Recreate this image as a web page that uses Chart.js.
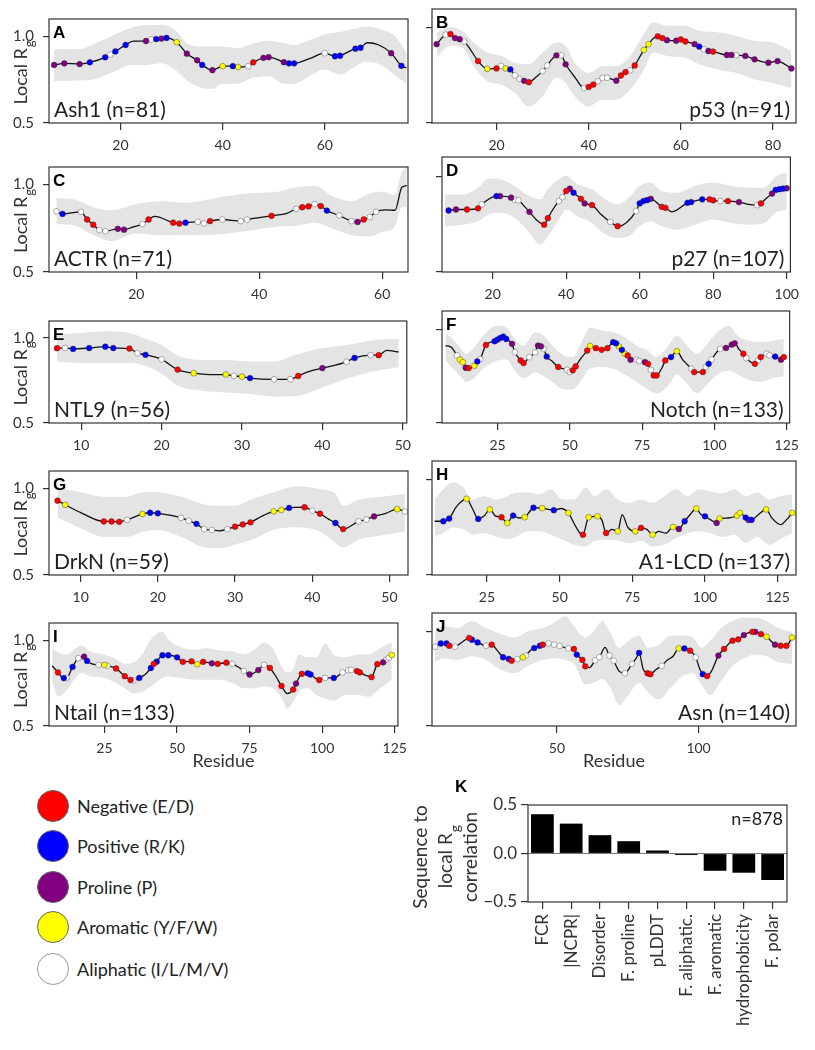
<!DOCTYPE html>
<html>
<head>
<meta charset="utf-8">
<title>Local Rg per residue</title>
<script src="https://cdn.jsdelivr.net/npm/chart.js@4.4.1/dist/chart.umd.min.js"></script>
<style>
  body { margin: 0; background: #fff; width: 815px; height: 1050px; position: relative; overflow: hidden; font-family: Lato, "DejaVu Sans", sans-serif; }
  canvas { position: absolute; }
  .legend-item { position: absolute; left: 37px; height: 32px; display: flex; align-items: center; white-space: nowrap; font-size: 18px; color: #222; }
  .legend-dot { width: 32px; height: 32px; border-radius: 50%; border: 1px solid #666; box-sizing: border-box; margin-right: 8px; }
</style>
</head>
<body>
<script>
// --- Data: residue, local Rg, residue class per marker ---
// class codes: E negative, K positive, P proline, Y aromatic, L aliphatic, '-' line only

// A: Ash1
const ash1Res = [7, 9, 12, 14, 17, 18, 19, 21, 22.5, 25, 26, 27, 28, 29, 31, 33, 35, 36, 38, 40, 42, 43, 45, 46, 48, 49, 52, 53, 54, 57, 60, 62, 63, 66, 67, 68.3, 70.6, 73, 75, 76];
const ash1Rg = [0.835, 0.844, 0.84, 0.85, 0.879, 0.895, 0.913, 0.95, 0.972, 0.973, 0.982, 0.984, 0.987, 0.991, 0.966, 0.9, 0.862, 0.835, 0.805, 0.828, 0.828, 0.823, 0.828, 0.85, 0.876, 0.88, 0.851, 0.844, 0.844, 0.871, 0.903, 0.885, 0.888, 0.929, 0.934, 0.963, 0.95, 0.903, 0.83, 0.818];
const ash1Aa = 'PPPKKLKK-PLKPKYPPKPYKYLEPPPKK-LKKKK--PK-';
const ash1BandRes = [7, 12, 15, 19, 22, 25, 28, 31, 33, 36, 38, 40, 43, 46, 49, 52, 54, 57, 60, 63, 66, 68, 71, 74, 76];
const ash1Hi = [0.925, 0.927, 0.959, 1.012, 1.048, 1.065, 1.065, 1.03, 0.959, 0.941, 0.94, 0.941, 0.932, 0.959, 0.975, 0.96, 0.95, 0.977, 1.012, 1.025, 1.045, 1.057, 1.039, 0.995, 0.906];
const ash1Lo = [0.743, 0.745, 0.754, 0.8, 0.835, 0.835, 0.844, 0.8, 0.745, 0.702, 0.697, 0.727, 0.727, 0.762, 0.77, 0.727, 0.727, 0.77, 0.808, 0.78, 0.826, 0.853, 0.835, 0.77, 0.727];
const ash1Ticks = [20, 40, 60];

// B: p53
const p53Res = [7, 9, 10, 11, 12, 13, 14.3, 16, 18, 20, 21, 22, 23, 24, 25, 26, 27, 28.8, 30, 31, 32, 33, 34, 35, 37.1, 39, 40, 41, 42, 43, 44, 46, 47, 48, 49, 50, 52, 53, 54, 55, 56, 57, 59, 60, 61, 63, 64, 65, 66, 67, 70, 71, 72, 74, 76, 79, 81, 82.5, 84];
const p53Rg = [0.915, 0.965, 0.968, 0.947, 0.941, 0.929, 0.888, 0.826, 0.785, 0.787, 0.8, 0.787, 0.782, 0.75, 0.732, 0.722, 0.715, 0.746, 0.773, 0.803, 0.835, 0.856, 0.856, 0.809, 0.738, 0.684, 0.69, 0.702, 0.72, 0.738, 0.738, 0.723, 0.75, 0.768, 0.777, 0.803, 0.885, 0.915, 0.945, 0.956, 0.947, 0.936, 0.933, 0.94, 0.929, 0.915, 0.902, 0.888, 0.879, 0.876, 0.858, 0.858, 0.856, 0.853, 0.835, 0.817, 0.826, 0.81, 0.787];
const p53Aa = 'PLEPPL-EYELYKLLPE-LL-PLP-LEELLLPEELEYY-EEPPEEPKLPEPPLPPPP-P';
const p53BandRes = [7, 10, 13, 15, 18, 21, 24, 27, 30, 33, 35, 37, 40, 43, 46, 49, 52, 54, 57, 61, 64, 68, 72, 76, 80, 84];
const p53Hi = [0.977, 1.004, 0.977, 0.924, 0.871, 0.853, 0.817, 0.809, 0.871, 0.924, 0.906, 0.817, 0.764, 0.8, 0.8, 0.853, 0.968, 1.03, 1.012, 1.012, 0.986, 0.977, 0.959, 0.933, 0.924, 0.879];
const p53Lo = [0.844, 0.906, 0.888, 0.8, 0.72, 0.702, 0.658, 0.587, 0.64, 0.738, 0.711, 0.64, 0.587, 0.622, 0.622, 0.676, 0.782, 0.871, 0.853, 0.844, 0.809, 0.782, 0.764, 0.729, 0.711, 0.684];
const p53Ticks = [20, 40, 60, 80];

// C: ACTR
const actrRes = [7, 8, 11, 12, 13, 14, 15, 17, 18, 19.5, 21, 22, 23, 26, 27, 28, 30, 31, 32, 34, 37, 38, 42, 44.5, 46, 47, 48, 49, 50, 51, 53, 55, 56, 57, 58, 59, 60.5, 62.1, 63.2, 64];
const actrRg = [0.847, 0.832, 0.844, 0.8, 0.77, 0.739, 0.733, 0.747, 0.742, 0.758, 0.774, 0.8, 0.818, 0.782, 0.777, 0.782, 0.786, 0.777, 0.791, 0.8, 0.791, 0.8, 0.821, 0.835, 0.861, 0.87, 0.875, 0.888, 0.877, 0.851, 0.823, 0.791, 0.786, 0.8, 0.814, 0.844, 0.855, 0.853, 0.984, 0.993];
const actrAa = 'LKLEELLPP-LE-EEKLLELLLE-LEELEKLLPELL----';
const actrBandRes = [7, 10, 13, 16, 20, 24, 28, 33, 38, 43, 46, 49, 52, 55, 58, 60, 62, 63.2, 64];
const actrHi = [0.923, 0.914, 0.87, 0.853, 0.888, 0.905, 0.896, 0.923, 0.949, 0.958, 0.984, 0.993, 0.932, 0.905, 0.949, 0.958, 0.94, 1.07, 1.098];
const actrLo = [0.774, 0.765, 0.712, 0.677, 0.72, 0.71, 0.712, 0.715, 0.735, 0.76, 0.765, 0.782, 0.747, 0.712, 0.704, 0.73, 0.756, 0.87, 0.87];
const actrTicks = [20, 40, 60];

// D: p27
const p27Res = [8, 10, 13, 16, 17, 21, 22, 25, 26, 27, 28.5, 30, 32, 34, 35, 36.5, 38, 39, 40, 41, 42, 44, 45, 47, 49.5, 52, 54, 56.5, 59, 60, 61, 62, 63, 66, 67, 68.8, 73, 74, 77, 79, 80, 82, 84, 87, 89.5, 92, 93, 94.5, 96, 97, 98, 99, 100];
const p27Rg = [0.821, 0.826, 0.826, 0.832, 0.853, 0.896, 0.896, 0.888, 0.877, 0.874, 0.845, 0.814, 0.77, 0.747, 0.781, 0.83, 0.87, 0.891, 0.923, 0.935, 0.914, 0.882, 0.858, 0.849, 0.8, 0.761, 0.739, 0.76, 0.818, 0.858, 0.87, 0.875, 0.882, 0.84, 0.835, 0.814, 0.861, 0.865, 0.879, 0.879, 0.874, 0.87, 0.87, 0.865, 0.853, 0.849, 0.858, 0.885, 0.909, 0.928, 0.932, 0.935, 0.937];
const p27Aa = 'KPEELKPPLL-P-EE-LLEPKEPE-LE-LKKKPEE-KKKEELEP-LE-PKKKP';
const p27BandRes = [7, 12, 16, 19, 22, 26, 30, 33, 35, 38, 40, 43, 47, 50, 54, 57, 60, 63, 66, 70, 75, 80, 85, 90, 94, 97, 100];
const p27Hi = [0.905, 0.905, 0.94, 0.988, 0.984, 0.949, 0.896, 0.879, 0.932, 0.984, 1.002, 0.958, 0.932, 0.888, 0.853, 0.888, 0.949, 0.967, 0.923, 0.914, 0.949, 0.967, 0.949, 0.94, 0.94, 0.998, 1.019];
const p27Lo = [0.739, 0.747, 0.765, 0.8, 0.809, 0.782, 0.704, 0.642, 0.686, 0.774, 0.826, 0.791, 0.756, 0.704, 0.677, 0.686, 0.739, 0.765, 0.739, 0.721, 0.747, 0.774, 0.756, 0.747, 0.756, 0.809, 0.826];
const p27Ticks = [20, 40, 60, 80, 100];

// E: NTL9
const ntl9Res = [7, 8, 9, 11, 13, 14, 16, 17, 18, 20, 22, 24, 26, 28, 29, 30, 31, 34, 36, 37, 38.5, 40, 43, 44, 46, 47, 48, 49.5];
const ntl9Rg = [0.94, 0.941, 0.936, 0.941, 0.949, 0.941, 0.938, 0.911, 0.901, 0.874, 0.814, 0.793, 0.785, 0.785, 0.777, 0.773, 0.764, 0.757, 0.757, 0.777, 0.805, 0.823, 0.86, 0.883, 0.899, 0.899, 0.927, 0.918];
const ntl9Aa = 'ELKKKKELKLEY-YLYKLLE-PLKLE--';
const ntl9BandRes = [7, 10, 13, 16, 18, 20, 22, 25, 28, 31, 34, 37, 40, 43, 46, 49.5];
const ntl9Hi = [1.021, 1.03, 1.039, 1.03, 0.995, 0.959, 0.897, 0.871, 0.871, 0.862, 0.862, 0.906, 0.941, 0.959, 0.986, 0.995];
const ntl9Lo = [0.862, 0.853, 0.853, 0.853, 0.835, 0.79, 0.72, 0.69, 0.68, 0.67, 0.655, 0.66, 0.71, 0.76, 0.8, 0.83];
const ntl9Ticks = [10, 20, 30, 40, 50];

// F: Notch
const notchRes = [7, 9, 11, 12, 13, 14, 15, 17, 18, 19, 21, 24, 25, 26, 27, 28, 30, 31, 33, 34, 36, 38, 39, 40, 41, 42, 44, 46, 49, 50, 51, 52, 54, 56, 57, 59, 61, 63, 65, 66, 67, 68, 69, 70, 71, 73, 74, 76, 77, 78, 79, 80, 82, 83, 85, 87, 89, 92, 93, 96, 97, 98, 99, 102, 104, 106, 107, 108.5, 110, 111, 114, 115, 116, 118, 119, 121, 123, 124];
const notchRg = [0.915, 0.906, 0.862, 0.839, 0.826, 0.796, 0.794, 0.807, 0.83, 0.842, 0.918, 0.938, 0.947, 0.956, 0.963, 0.95, 0.924, 0.879, 0.835, 0.821, 0.853, 0.879, 0.915, 0.911, 0.897, 0.856, 0.83, 0.8, 0.785, 0.773, 0.782, 0.803, 0.85, 0.888, 0.913, 0.901, 0.892, 0.901, 0.933, 0.927, 0.91, 0.892, 0.871, 0.862, 0.839, 0.839, 0.832, 0.826, 0.817, 0.785, 0.755, 0.755, 0.8, 0.835, 0.853, 0.885, 0.84, 0.791, 0.773, 0.773, 0.8, 0.817, 0.84, 0.897, 0.902, 0.92, 0.927, 0.895, 0.871, 0.848, 0.817, 0.835, 0.853, 0.871, 0.862, 0.856, 0.839, 0.853];
const notchAa = '--LYYPEYKLEKKKKKPLEELLPPLK-ELLEE-EYEEEKKYKYEPLLPELEE-EKY-LEELKLLPPP-ELELELLKPE';
const notchBandRes = [7, 9, 12, 14, 17, 20, 25, 28, 31, 34, 38, 41, 44, 48, 51, 54, 57, 61, 65, 69, 73, 77, 80, 84, 87, 90, 94, 97, 101, 105, 108, 112, 116, 120, 124];
const notchHi = [0.977, 0.96, 0.906, 0.871, 0.906, 0.968, 1.021, 1.012, 0.95, 0.915, 0.986, 0.968, 0.915, 0.862, 0.853, 0.933, 1.012, 0.995, 0.986, 0.959, 0.915, 0.888, 0.853, 0.915, 0.968, 0.924, 0.871, 0.915, 0.986, 1.021, 0.968, 0.941, 0.933, 0.941, 0.95];
const notchLo = [0.835, 0.8, 0.755, 0.72, 0.74, 0.79, 0.835, 0.84, 0.78, 0.74, 0.77, 0.75, 0.72, 0.68, 0.68, 0.73, 0.79, 0.8, 0.79, 0.76, 0.72, 0.68, 0.658, 0.7, 0.76, 0.72, 0.66, 0.7, 0.76, 0.78, 0.76, 0.73, 0.72, 0.74, 0.75];
const notchTicks = [25, 50, 75, 100, 125];

// G: DrkN
const drknRes = [7, 8, 10, 13, 14, 15, 16, 18, 19, 20, 21.5, 23, 24, 25, 26, 27, 28, 29, 30, 31, 32, 33.5, 35, 36, 37, 38, 39, 40, 41, 42, 43, 44, 46, 47, 48, 49.5, 51, 52];
const drknRg = [0.929, 0.905, 0.86, 0.809, 0.809, 0.807, 0.818, 0.852, 0.859, 0.856, 0.845, 0.83, 0.813, 0.795, 0.765, 0.76, 0.755, 0.765, 0.779, 0.792, 0.804, 0.84, 0.867, 0.875, 0.887, 0.89, 0.891, 0.871, 0.854, 0.825, 0.8, 0.765, 0.809, 0.82, 0.838, 0.855, 0.88, 0.866];
const drknAa = 'EY-EEELYKK-LLKLL-LEEE-YYK-ELE-KELLP-YL';
const drknBandRes = [7, 10, 13, 16, 18, 20, 23, 26, 28, 30, 32, 35, 38, 41, 43, 44, 46, 49, 52];
const drknHi = [1.004, 0.977, 0.951, 0.951, 0.977, 0.977, 0.951, 0.907, 0.9, 0.9, 0.934, 0.977, 1.012, 0.995, 0.969, 0.898, 0.934, 0.951, 0.969];
const drknLo = [0.83, 0.77, 0.72, 0.72, 0.75, 0.76, 0.72, 0.659, 0.654, 0.676, 0.7, 0.76, 0.775, 0.75, 0.686, 0.659, 0.703, 0.73, 0.75];
const drknTicks = [10, 20, 30, 40, 50];

// H: A1-LCD
const a1lcdRes = [7, 10, 12, 14.5, 18, 20, 22, 24, 26, 28, 30, 32, 34, 36, 38, 39.5, 41, 44, 48, 50.5, 53, 55, 57, 58, 60, 63, 64.5, 66, 68, 70, 71.5, 73.5, 76, 78, 80, 82, 84, 86.5, 89, 91, 93, 95, 97, 98.5, 100, 102, 104, 105, 108, 111, 112, 114, 115, 116, 118.5, 121, 123, 126, 128, 130];
const a1lcdRg = [0.783, 0.783, 0.797, 0.86, 0.901, 0.85, 0.795, 0.81, 0.845, 0.81, 0.804, 0.774, 0.813, 0.8, 0.804, 0.83, 0.854, 0.852, 0.841, 0.85, 0.827, 0.77, 0.72, 0.712, 0.804, 0.809, 0.79, 0.721, 0.74, 0.73, 0.818, 0.75, 0.73, 0.748, 0.74, 0.712, 0.73, 0.72, 0.753, 0.742, 0.783, 0.82, 0.85, 0.82, 0.809, 0.79, 0.774, 0.797, 0.8, 0.813, 0.827, 0.802, 0.79, 0.79, 0.82, 0.845, 0.8, 0.765, 0.79, 0.827];
const a1lcdAa = '-KK-Y-K-Y-EYK-Y-KYK-Y--EYY-E-Y--YE-Y--YPK-Y-K-PY-YYKPK-Y---Y';
const a1lcdBandRes = [7, 10, 13, 17, 20, 24, 28, 32, 35, 39, 43, 47, 51, 55, 59, 62, 66, 70, 74, 78, 82, 86, 90, 94, 98, 102, 106, 110, 114, 118, 122, 126, 130];
const a1lcdHi = [0.898, 0.951, 0.988, 0.96, 0.898, 0.915, 0.898, 0.915, 0.934, 0.934, 0.925, 0.951, 0.898, 0.898, 0.96, 0.915, 0.951, 0.898, 0.88, 0.898, 0.88, 0.915, 0.951, 0.915, 0.951, 0.94, 0.93, 0.951, 0.915, 0.934, 0.898, 0.915, 0.925];
const a1lcdLo = [0.703, 0.72, 0.75, 0.74, 0.712, 0.72, 0.703, 0.69, 0.7, 0.73, 0.73, 0.712, 0.685, 0.659, 0.65, 0.68, 0.685, 0.68, 0.668, 0.68, 0.65, 0.66, 0.694, 0.72, 0.73, 0.72, 0.7, 0.71, 0.668, 0.7, 0.659, 0.69, 0.72];
const a1lcdTicks = [25, 50, 75, 100, 125];

// I: Ntail
const ntailRes = [7, 9, 11, 12, 14, 16, 18, 19, 21, 23, 25, 26, 29, 32, 34, 35, 37, 39, 41, 42, 43, 45, 47, 50, 52, 55, 57, 59, 62, 64, 67, 69, 71, 73, 75, 78, 80, 82, 84, 86, 88, 90, 91, 93, 95, 96, 99, 101, 104, 107, 109, 110, 112, 113, 115, 117, 119, 121, 122, 123, 124];
const ntailRg = [0.851, 0.812, 0.779, 0.78, 0.844, 0.895, 0.904, 0.879, 0.86, 0.856, 0.856, 0.851, 0.835, 0.79, 0.768, 0.765, 0.78, 0.8, 0.838, 0.862, 0.875, 0.912, 0.912, 0.9, 0.874, 0.877, 0.86, 0.874, 0.865, 0.862, 0.869, 0.862, 0.845, 0.821, 0.8, 0.826, 0.856, 0.838, 0.79, 0.733, 0.689, 0.712, 0.747, 0.804, 0.807, 0.8, 0.768, 0.78, 0.78, 0.812, 0.825, 0.827, 0.82, 0.812, 0.795, 0.785, 0.86, 0.871, 0.886, 0.897, 0.914];
const ntailAa = '-EKLKLPK-LYLEEELK-KEKKKKEEYEPEEL-LPPLE-E-EPEKKELKLLLEE-EEPLLY';
const ntailBandRes = [7, 9, 12, 15, 17, 20, 25, 29, 32, 35, 38, 41, 45, 47, 51, 56, 60, 65, 69, 73, 77, 80, 83, 86, 88, 90, 92, 95, 98, 101, 104, 108, 112, 116, 120, 124];
const ntailHi = [0.953, 0.93, 0.917, 0.95, 0.97, 0.935, 0.917, 0.889, 0.863, 0.87, 0.917, 1.005, 1.049, 1.005, 0.961, 0.944, 0.953, 0.94, 0.935, 0.917, 0.95, 0.987, 0.953, 0.847, 0.812, 0.83, 0.917, 0.9, 0.9, 0.979, 0.917, 0.9, 0.917, 0.917, 0.953, 0.988];
const ntailLo = [0.76, 0.672, 0.709, 0.78, 0.81, 0.79, 0.78, 0.75, 0.72, 0.69, 0.7, 0.73, 0.78, 0.79, 0.78, 0.77, 0.77, 0.77, 0.75, 0.72, 0.72, 0.73, 0.72, 0.665, 0.602, 0.639, 0.7, 0.72, 0.68, 0.66, 0.647, 0.68, 0.68, 0.67, 0.72, 0.77];
const ntailTicks = [25, 50, 75, 100, 125];

// J: Asn
const asnRes = [7, 9, 11, 12, 14, 16.5, 19, 20, 22, 25, 27, 29, 31, 33, 34, 36, 38, 39, 40.5, 42, 44, 45, 47, 49, 51, 54, 56, 57, 59, 60, 61.5, 63.5, 65, 67, 68.5, 70, 72, 74, 76.5, 78, 79, 80.5, 82, 83, 85, 87, 89, 91, 93, 95, 97, 99, 100.5, 101.5, 103, 104.5, 107, 109, 112, 114, 116, 119, 120, 122, 124, 127, 129, 131, 133];
const asnRg = [0.921, 0.938, 0.938, 0.926, 0.921, 0.945, 0.967, 0.958, 0.944, 0.926, 0.932, 0.9, 0.865, 0.856, 0.847, 0.856, 0.865, 0.874, 0.9, 0.914, 0.926, 0.932, 0.938, 0.932, 0.925, 0.912, 0.909, 0.879, 0.851, 0.817, 0.81, 0.849, 0.865, 0.917, 0.874, 0.847, 0.79, 0.78, 0.83, 0.86, 0.888, 0.8, 0.78, 0.775, 0.8, 0.82, 0.85, 0.87, 0.912, 0.912, 0.9, 0.865, 0.8, 0.775, 0.765, 0.79, 0.874, 0.909, 0.953, 0.96, 0.983, 1.0, 1.0, 0.988, 0.974, 0.932, 0.926, 0.926, 0.97];
const asnAa = 'LKKEL-EKKLE-KKELYL-KKELLLLEKEE-LL-LL-LL-K-EE-L--YKEL-KE-PEEEPEPEYPEEY';
const asnBandRes = [7, 10, 15, 20, 25, 30, 35, 40, 45, 50, 53, 56, 60, 63, 66, 69, 72, 75, 79, 82, 86, 90, 94, 98, 101, 104, 108, 112, 116, 120, 124, 128, 133];
const asnHi = [1.005, 1.03, 1.02, 1.058, 1.02, 0.99, 0.97, 1.005, 1.02, 1.058, 1.084, 1.03, 0.97, 1.005, 1.058, 0.99, 0.916, 0.95, 0.98, 0.916, 0.93, 0.98, 0.98, 0.97, 0.916, 0.95, 1.02, 1.058, 1.075, 1.075, 1.058, 1.02, 1.0];
const asnLo = [0.84, 0.86, 0.85, 0.87, 0.85, 0.8, 0.78, 0.82, 0.85, 0.86, 0.85, 0.83, 0.72, 0.73, 0.75, 0.7, 0.61, 0.66, 0.73, 0.68, 0.64, 0.7, 0.76, 0.78, 0.72, 0.663, 0.74, 0.82, 0.86, 0.88, 0.87, 0.84, 0.83];
const asnTicks = [50, 100];

// K: sequence feature correlation with local Rg (n=878)
const corrFeatures = ['FCR', '|NCPR|', 'Disorder', 'F. proline', 'pLDDT', 'F. aliphatic.', 'F. aromatic', 'hydrophobicity', 'F. polar'];
const corrValues = [0.405, 0.308, 0.189, 0.127, 0.031, -0.016, -0.178, -0.198, -0.273];
const corrTicks = [-0.5, 0, 0.5];

// legend classes
const classCodes = ['E', 'K', 'P', 'Y', 'L'];
const classNames = ['Negative (E/D)', 'Positive (R/K)', 'Proline (P)', 'Aromatic (Y/F/W)', 'Aliphatic (I/L/M/V)'];
const classColors = ['#ff0000', '#0000ff', '#800080', '#ffff00', '#ffffff'];

// --- Styling ---
const FONT = 'Lato, "DejaVu Sans", sans-serif';
const BOLD = '"Liberation Sans", Arial, sans-serif';
Chart.defaults.font.family = FONT;
Chart.defaults.color = '#333';

const BAND = 'rgb(228,228,228)';

// panel boxes are page coordinates of the plot frame [left, top, right, bottom]
const panels = [
    { letter: 'A', name: 'Ash1 (n=81)',   res: ash1Res,  rg: ash1Rg,  aa: ash1Aa,  bx: ash1BandRes,  lo: ash1Lo,  hi: ash1Hi,  ticks: ash1Ticks,  xr: [6, 76.3],    box: [49, 9, 408, 123],   left: true },
    { letter: 'B', name: 'p53 (n=91)',    res: p53Res,   rg: p53Rg,   aa: p53Aa,   bx: p53BandRes,   lo: p53Lo,   hi: p53Hi,   ticks: p53Ticks,   xr: [6, 85],      box: [432, 9, 796, 123],  left: false },
    { letter: 'C', name: 'ACTR (n=71)',   res: actrRes,  rg: actrRg,  aa: actrAa,  bx: actrBandRes,  lo: actrLo,  hi: actrHi,  ticks: actrTicks,  xr: [5.8, 64.2],  box: [49, 157, 408, 272], left: true },
    { letter: 'D', name: 'p27 (n=107)',   res: p27Res,   rg: p27Rg,   aa: p27Aa,   bx: p27BandRes,   lo: p27Lo,   hi: p27Hi,   ticks: p27Ticks,   xr: [6.2, 101],   box: [442, 157, 796, 272], left: false },
    { letter: 'E', name: 'NTL9 (n=56)',   res: ntl9Res,  rg: ntl9Rg,  aa: ntl9Aa,  bx: ntl9BandRes,  lo: ntl9Lo,  hi: ntl9Hi,  ticks: ntl9Ticks,  xr: [6, 50.5],    box: [49, 311, 408, 423], left: true },
    { letter: 'F', name: 'Notch (n=133)', res: notchRes, rg: notchRg, aa: notchAa, bx: notchBandRes, lo: notchLo, hi: notchHi, ticks: notchTicks, xr: [5.8, 126],   box: [442, 311, 796, 423], left: false },
    { letter: 'G', name: 'DrkN (n=59)',   res: drknRes,  rg: drknRg,  aa: drknAa,  bx: drknBandRes,  lo: drknLo,  hi: drknHi,  ticks: drknTicks,  xr: [5.9, 52.4],  box: [49, 461, 408, 575], left: true },
    { letter: 'H', name: 'A1-LCD (n=137)', res: a1lcdRes, rg: a1lcdRg, aa: a1lcdAa, bx: a1lcdBandRes, lo: a1lcdLo, hi: a1lcdHi, ticks: a1lcdTicks, xr: [6.1, 131.3], box: [432, 461, 796, 575], left: false },
    { letter: 'I', name: 'Ntail (n=133)', res: ntailRes, rg: ntailRg, aa: ntailAa, bx: ntailBandRes, lo: ntailLo, hi: ntailHi, ticks: ntailTicks, xr: [5.9, 126.1], box: [49, 613, 404, 726], left: true,  xtitle: 'Residue' },
    { letter: 'J', name: 'Asn (n=140)',   res: asnRes,   rg: asnRg,   aa: asnAa,   bx: asnBandRes,   lo: asnLo,   hi: asnHi,   ticks: asnTicks,   xr: [5.9, 134.4], box: [432, 613, 796, 726], left: false, xtitle: 'Residue' }
];

// draws rotated text with a subscript (e.g. Local R_g)
function drawSubText(ctx, cx, cy, main, sub, size) {
    ctx.save();
    ctx.translate(cx, cy);
    ctx.rotate(-Math.PI / 2);
    const subSize = Math.round(size * 0.72);
    ctx.font = size + 'px ' + FONT;
    const w1 = ctx.measureText(main).width;
    ctx.font = subSize + 'px ' + FONT;
    const w2 = ctx.measureText(sub).width;
    const x0 = -(w1 + w2) / 2;
    ctx.fillStyle = '#333';
    ctx.textAlign = 'left';
    ctx.textBaseline = 'middle';
    ctx.font = size + 'px ' + FONT;
    ctx.fillText(main, x0, 0);
    ctx.font = subSize + 'px ' + FONT;
    ctx.fillText(sub, x0 + w1 + 1, size * 0.5);
    ctx.restore();
}

// frame + panel letter + protein name + axis titles
const panelDeco = {
    id: 'panelDeco',
    afterDatasetsDraw(chart, args, o) {
        const ctx = chart.ctx;
        const a = chart.chartArea;
        ctx.save();
        ctx.strokeStyle = '#333';
        ctx.lineWidth = 1.2;
        ctx.strokeRect(a.left, a.top, a.right - a.left, a.bottom - a.top);

        ctx.fillStyle = '#000';
        ctx.textBaseline = 'alphabetic';
        ctx.textAlign = 'left';
        ctx.font = 'bold 17px ' + BOLD;
        ctx.fillText(o.letter, a.left + 4, a.top + 19);

        ctx.fillStyle = '#222';
        ctx.font = '21px ' + FONT;
        if (o.left) {
            ctx.textAlign = 'left';
            ctx.fillText(o.name, a.left + 5, a.bottom - 6);
        } else {
            ctx.textAlign = 'right';
            ctx.fillText(o.name, a.right - 6, a.bottom - 6);
        }
        if (o.left) drawSubText(ctx, 21, (a.top + a.bottom) / 2 + 2, 'Local R', 'g', 18);
        if (o.xtitle) {
            ctx.fillStyle = '#333';
            ctx.font = '18px ' + FONT;
            ctx.textAlign = 'center';
            ctx.textBaseline = 'middle';
            ctx.fillText(o.xtitle, (a.left + a.right) / 2, a.bottom + 35);
        }
        ctx.restore();
    }
};

function buildPanel(p) {
    const [l, t, r, b] = p.box;
    const LS = p.left ? l : 22;      // room for y axis
    const TOP = 8, RIGHT = 10, BOTTOM = 50;
    const cv = document.createElement('canvas');
    cv.width = (r - l) + LS + RIGHT;
    cv.height = (b - t) + TOP + BOTTOM;
    cv.style.left = (l - LS) + 'px';
    cv.style.top = (t - TOP) + 'px';
    document.body.appendChild(cv);

    const datasets = [];
    // shaded band
    datasets.push({
        data: p.bx.map((x, i) => ({ x: x, y: p.lo[i] })),
        borderWidth: 0, pointRadius: 0, fill: false,
        cubicInterpolationMode: 'monotone', order: 4
    });
    datasets.push({
        data: p.bx.map((x, i) => ({ x: x, y: p.hi[i] })),
        borderWidth: 0, pointRadius: 0, fill: '-1', backgroundColor: BAND,
        cubicInterpolationMode: 'monotone', order: 3
    });
    // local Rg trace
    datasets.push({
        data: p.res.map((x, i) => ({ x: x, y: p.rg[i] })),
        borderColor: '#111', borderWidth: 1.3, pointRadius: 0, fill: false,
        cubicInterpolationMode: 'monotone', order: 2
    });
    // residue markers by class
    classCodes.forEach((code, k) => {
        const pts = [];
        p.res.forEach((x, i) => { if (p.aa[i] === code) pts.push({ x: x, y: p.rg[i] }); });
        datasets.push({
            data: pts, showLine: false,
            pointRadius: 2.9, pointBackgroundColor: classColors[k],
            pointBorderColor: code === 'L' ? '#777' : 'rgba(40,40,40,0.7)', pointBorderWidth: 0.6,
            order: 1
        });
    });

    new Chart(cv, {
        type: 'line',
        data: { datasets: datasets },
        options: {
            responsive: false,
            animation: false,
            layout: { padding: { top: TOP, right: RIGHT, left: 0, bottom: 0 } },
            plugins: {
                legend: { display: false },
                tooltip: { enabled: false },
                panelDeco: { letter: p.letter, name: p.name, left: p.left, xtitle: p.xtitle }
            },
            scales: {
                x: {
                    type: 'linear', min: p.xr[0], max: p.xr[1],
                    afterBuildTicks: axis => { axis.ticks = p.ticks.map(v => ({ value: v })); },
                    ticks: { font: { size: 14 }, color: '#333', padding: 7, maxRotation: 0, autoSkip: false, callback: v => String(v) },
                    grid: { drawOnChartArea: false, drawTicks: true, tickLength: 7, color: '#333', lineWidth: 1.2 },
                    border: { display: false },
                    afterFit: axis => { axis.height = BOTTOM; }
                },
                y: {
                    min: 0.5, max: 1.1,
                    afterBuildTicks: axis => { axis.ticks = [{ value: 0.5 }, { value: 1.0 }]; },
                    ticks: { display: p.left, font: { size: 15 }, color: '#333', padding: 9, callback: v => v.toFixed(1) },
                    grid: { drawOnChartArea: false, drawTicks: true, tickLength: 6, color: '#333', lineWidth: 1.2 },
                    border: { display: false },
                    afterFit: axis => { axis.width = LS; }
                }
            }
        },
        plugins: [panelDeco]
    });
}

panels.forEach(buildPanel);

// --- Panel K: bar chart of correlations ---
const corrDeco = {
    id: 'corrDeco',
    afterDatasetsDraw(chart) {
        const ctx = chart.ctx;
        const a = chart.chartArea;
        const y0 = chart.scales.y.getPixelForValue(0);
        ctx.save();
        ctx.strokeStyle = '#777';
        ctx.lineWidth = 1;
        ctx.beginPath();
        ctx.moveTo(a.left, y0);
        ctx.lineTo(a.right, y0);
        ctx.stroke();
        ctx.strokeStyle = '#333';
        ctx.lineWidth = 1.2;
        ctx.strokeRect(a.left, a.top, a.right - a.left, a.bottom - a.top);

        ctx.fillStyle = '#000';
        ctx.font = 'bold 17px ' + BOLD;
        ctx.textAlign = 'left';
        ctx.textBaseline = 'alphabetic';
        ctx.fillText('K', 55, 22);

        ctx.fillStyle = '#222';
        ctx.font = '18px ' + FONT;
        ctx.textAlign = 'right';
        ctx.fillText('n=878', a.right - 4, a.top + 20);

        // y title, three lines
        const cy = 87;
        ctx.save();
        ctx.translate(21, cy);
        ctx.rotate(-Math.PI / 2);
        ctx.fillStyle = '#333';
        ctx.font = '19px ' + FONT;
        ctx.textAlign = 'center';
        ctx.textBaseline = 'middle';
        ctx.fillText('Sequence to', 0, 0);
        ctx.restore();
        drawSubText(ctx, 46, cy, 'local R', 'g', 19);
        ctx.save();
        ctx.translate(71, cy);
        ctx.rotate(-Math.PI / 2);
        ctx.fillStyle = '#333';
        ctx.font = '19px ' + FONT;
        ctx.textAlign = 'center';
        ctx.textBaseline = 'middle';
        ctx.fillText('correlation', 0, 0);
        ctx.restore();
        ctx.restore();
    }
};

const kCanvas = document.createElement('canvas');
kCanvas.width = 415;
kCanvas.height = 280;
kCanvas.style.left = '400px';
kCanvas.style.top = '770px';
document.body.appendChild(kCanvas);

new Chart(kCanvas, {
    type: 'bar',
    data: {
        labels: corrFeatures,
        datasets: [{
            data: corrValues,
            backgroundColor: '#000',
            borderWidth: 0,
            categoryPercentage: 1,
            barPercentage: 0.79
        }]
    },
    options: {
        responsive: false,
        animation: false,
        layout: { padding: { top: 35, right: 28, left: 0, bottom: 0 } },
        plugins: { legend: { display: false }, tooltip: { enabled: false } },
        scales: {
            x: {
                ticks: { font: { size: 17 }, color: '#333', minRotation: 90, maxRotation: 90, autoSkip: false, padding: 5 },
                grid: { offset: false, drawOnChartArea: false, drawTicks: true, tickLength: 7, color: '#333', lineWidth: 1.2 },
                border: { display: false },
                afterFit: axis => { axis.height = 148; }
            },
            y: {
                min: -0.5, max: 0.5,
                afterBuildTicks: axis => { axis.ticks = corrTicks.map(v => ({ value: v })); },
                ticks: { font: { size: 17 }, color: '#333', padding: 4, callback: v => (v < 0 ? '\u2212' : '') + Math.abs(v).toFixed(1) },
                grid: { drawOnChartArea: false, drawTicks: true, tickLength: 7, color: '#333', lineWidth: 1.2 },
                border: { display: false },
                afterFit: axis => { axis.width = 128; }
            }
        }
    },
    plugins: [corrDeco]
});

// --- Legend for residue classes ---
const legendCenters = [806, 846, 887, 927, 969];
classNames.forEach((name, k) => {
    const item = document.createElement('div');
    item.className = 'legend-item';
    item.style.top = (legendCenters[k] - 16) + 'px';
    const dot = document.createElement('div');
    dot.className = 'legend-dot';
    dot.style.background = classColors[k];
    if (classCodes[k] === 'L') dot.style.borderColor = '#999';
    const label = document.createElement('span');
    label.textContent = name;
    item.appendChild(dot);
    item.appendChild(label);
    document.body.appendChild(item);
});
</script>
</body>
</html>
